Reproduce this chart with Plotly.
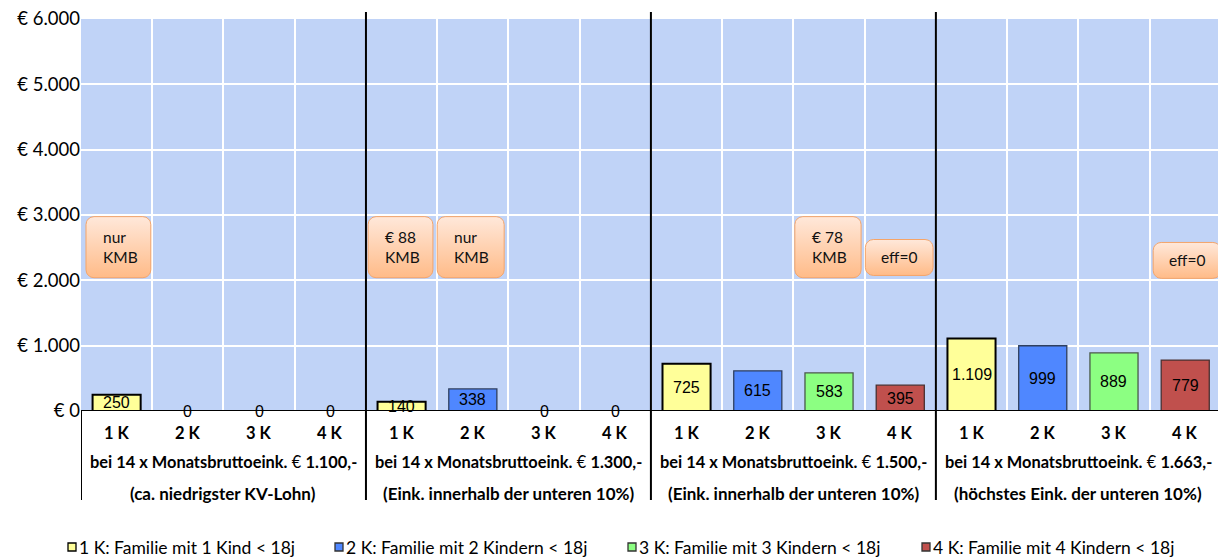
import plotly.graph_objects as go

# ---- data -------------------------------------------------------------
categories = ["1 K", "2 K", "3 K", "4 K"]
income_levels = ["1.100,-", "1.300,-", "1.500,-", "1.663,-"]
income_notes = [
    "(ca. niedrigster KV-Lohn)",
    "(Eink. innerhalb der unteren 10%)",
    "(Eink. innerhalb der unteren 10%)",
    "(höchstes Eink. der unteren 10%)",
]
series_names = [
    "1 K: Familie mit 1 Kind < 18j",
    "2 K: Familie mit 2 Kindern < 18j",
    "3 K: Familie mit 3 Kindern < 18j",
    "4 K: Familie mit 4 Kindern < 18j",
]
# one list per family size, one value per income level
values_1k = [250, 140, 725, 1109]
values_2k = [0, 338, 615, 999]
values_3k = [0, 0, 583, 889]
values_4k = [0, 0, 395, 779]
y_tick_values = [0, 1000, 2000, 3000, 4000, 5000, 6000]

# callouts: (income level index, family index, text)
callout_texts = [
    (0, 0, "nur<br>KMB"),
    (1, 0, "€ 88<br>KMB"),
    (1, 1, "nur<br>KMB"),
    (2, 2, "€ 78<br>KMB"),
    (2, 3, "eff=0"),
    (3, 3, "eff=0"),
]

# ---- styling ----------------------------------------------------------
series_values = [values_1k, values_2k, values_3k, values_4k]
fill_colors = ["#FFFF99", "#4F87FF", "#8CFF82", "#C0504D"]
edge_colors = ["#000000", "#2F3F5F", "#4A5A4A", "#4A3030"]
edge_widths = [2, 1.3, 1.3, 1.3]
BG = "#C0D3F7"
LABEL_FONT = "Lato"
VALUE_FONT = "Liberation Sans"

# callout box geometry (y extents in axis units, x as offset from bar centre)
callout_geom = [
    (-0.43, 0.48, 2040, 2975),
    (-0.47, 0.44, 2040, 2975),
    (-0.50, 0.44, 2040, 2975),
    (-0.48, 0.45, 2040, 2975),
    (-0.49, 0.46, 2075, 2625),
    (-0.45, 0.50, 2030, 2580),
]
left_aligned = [True, True, True, True, False, False]

n_groups = len(income_levels)
n_cat = len(categories)


def pos(g, k):
    return g * n_cat + k


def de_num(v):
    return f"{v:,}".replace(",", ".")


fig = go.Figure()

# bars
for k in range(n_cat):
    fig.add_trace(go.Bar(
        x=[pos(g, k) for g in range(n_groups)],
        y=series_values[k],
        width=0.675,
        name=series_names[k],
        marker=dict(color=fill_colors[k],
                    line=dict(color=edge_colors[k], width=edge_widths[k])),
        showlegend=False,
        hoverinfo="x+y",
    ))

# rounded callout boxes with a vertical gradient
PX_X = 71.24          # pixels per category
PX_Y = 392 / 6000     # pixels per axis unit
R = 8                 # corner radius in pixels


def rounded_box(x0, x1, y0, y1):
    import math
    rx, ry = R / PX_X, R / PX_Y
    xs, ys = [], []
    corners = [
        (x1 - rx, y1 - ry, 0, 90),
        (x0 + rx, y1 - ry, 90, 180),
        (x0 + rx, y0 + ry, 180, 270),
        (x1 - rx, y0 + ry, 270, 360),
    ]
    for cx, cy, a0, a1 in corners:
        for i in range(9):
            a = math.radians(a0 + (a1 - a0) * i / 8)
            xs.append(cx + rx * math.cos(a))
            ys.append(cy + ry * math.sin(a))
    xs.append(xs[0])
    ys.append(ys[0])
    return xs, ys


annotations = []
for (g, k, txt), (dx0, dx1, y0, y1), la in zip(callout_texts, callout_geom, left_aligned):
    c = pos(g, k)
    xs, ys = rounded_box(c + dx0, c + dx1, y0, y1)
    fig.add_trace(go.Scatter(
        x=xs, y=ys, mode="lines", fill="toself",
        fillgradient=dict(type="vertical",
                          colorscale=[[0, "#FFBB88"], [1, "#FFE8DA"]]),
        line=dict(color="#F5A468", width=1),
        showlegend=False, hoverinfo="skip",
    ))
    if la:
        annotations.append(dict(
            x=c + dx0 + 15 / PX_X, y=(y0 + y1) / 2, xref="x", yref="y",
            text=txt, showarrow=False, xanchor="left", yanchor="middle",
            align="left", font=dict(family=LABEL_FONT, size=15.5, color="#111")))
    else:
        annotations.append(dict(
            x=c + (dx0 + dx1) / 2, y=(y0 + y1) / 2, xref="x", yref="y",
            text=txt, showarrow=False, xanchor="center", yanchor="middle",
            font=dict(family=LABEL_FONT, size=15.5, color="#111")))

# value labels, centred in each bar
for k in range(n_cat):
    for g in range(n_groups):
        v = series_values[k][g]
        annotations.append(dict(
            x=pos(g, k), y=v / 2, xref="x", yref="y", text=de_num(v),
            showarrow=False, xanchor="center", yanchor="middle",
            font=dict(family=VALUE_FONT, size=16, color="#000")))


def py(px):
    """paper y for a pixel row (plot area 19..411 px)"""
    return (411 - px) / 392


def pxp(px):
    """paper x for a pixel column (plot area 81..1218 px)"""
    return (px - 81) / 1137


# category labels and group labels
for g in range(n_groups):
    for k in range(n_cat):
        annotations.append(dict(
            x=pos(g, k), y=py(433), xref="x", yref="paper",
            text=f"<b>{categories[k]}</b>", showarrow=False,
            xanchor="center", yanchor="middle",
            font=dict(family=LABEL_FONT, size=16.5, color="#000")))
    gc = pos(g, 0) + (n_cat - 1) / 2
    annotations.append(dict(
        x=gc, y=py(461), xref="x", yref="paper",
        text=f"<b>bei 14 x Monatsbruttoeink.</b> € <b>{income_levels[g]}</b>",
        showarrow=False, xanchor="center", yanchor="middle",
        font=dict(family=LABEL_FONT, size=16.4, color="#000")))
    annotations.append(dict(
        x=gc, y=py(493), xref="x", yref="paper",
        text=f"<b>{income_notes[g]}</b>", showarrow=False,
        xanchor="center", yanchor="middle",
        font=dict(family=LABEL_FONT, size=17, color="#000")))

# separators
shapes = []
for g in range(1, n_groups):
    xb = pos(g, 0) - 0.5
    shapes.append(dict(type="line", x0=xb, x1=xb, xref="x", yref="paper",
                       y0=py(500), y1=py(12), line=dict(color="#000", width=2),
                       layer="above"))
shapes.append(dict(type="line", x0=-0.5, x1=-0.5, xref="x", yref="paper",
                   y0=py(500), y1=0, line=dict(color="#000", width=2),
                   layer="above"))
shapes.append(dict(type="line", x0=0, x1=1, xref="paper", yref="y",
                   y0=0, y1=0, line=dict(color="#000", width=2), layer="above"))

# legend
legend_left = [68, 335, 628, 922]
for k in range(n_cat):
    x0 = legend_left[k]
    shapes.append(dict(type="rect", xref="paper", yref="paper",
                       x0=pxp(x0), x1=pxp(x0 + 8), y0=py(551), y1=py(543),
                       fillcolor=fill_colors[k],
                       line=dict(color="#000" if k == 0 else "#333", width=1.3)))
    annotations.append(dict(
        x=pxp(x0 + 9), y=py(547), xref="paper", yref="paper",
        text=series_names[k], showarrow=False, xanchor="left",
        yanchor="middle", font=dict(family=LABEL_FONT, size=17.5, color="#000")))

fig.update_layout(
    width=1218, height=559,
    margin=dict(l=81, r=0, t=19, b=148, pad=0),
    paper_bgcolor="white",
    plot_bgcolor=BG,
    barmode="overlay",
    xaxis=dict(range=[-0.5, 15.46], tickvals=[i + 0.5 for i in range(15)],
               showticklabels=False, ticks="", showgrid=True,
               gridcolor="white", gridwidth=2, zeroline=False,
               showline=False, fixedrange=True),
    yaxis=dict(range=[0, 6000], tickvals=y_tick_values,
               ticktext=[f"€ {de_num(v)}" for v in y_tick_values],
               showgrid=True, gridcolor="white", gridwidth=2,
               zeroline=False, showline=False, ticks="", ticklen=0,
               tickfont=dict(family=LABEL_FONT, size=18.5, color="#000"),
               fixedrange=True),
    annotations=annotations,
    shapes=shapes,
    showlegend=False,
)

fig.write_html("out.html")
